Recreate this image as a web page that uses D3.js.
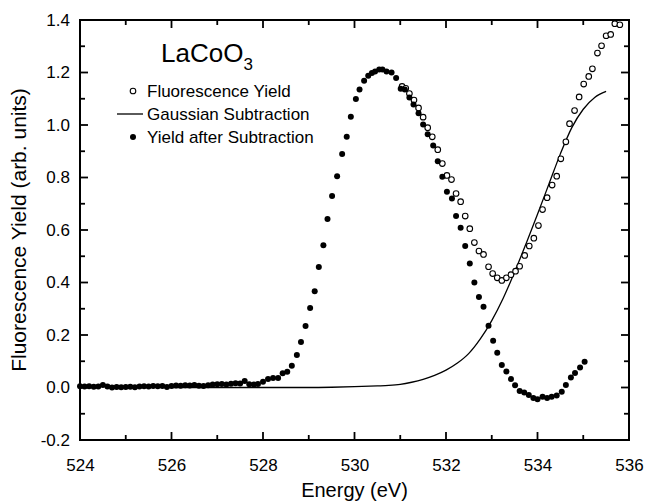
<!DOCTYPE html>
<html><head><meta charset="utf-8">
<script src="https://cdn.jsdelivr.net/npm/d3@7/dist/d3.min.js"></script>
<style>
html,body{margin:0;padding:0;background:#fff;}
svg{display:block;font-family:"Liberation Sans",Arial,Helvetica,sans-serif;}
</style></head>
<body><svg id="c" width="645" height="502"></svg>
<script>
// ---- data ----
const subE = [524.0,524.1,524.2,524.3,524.4,524.5,524.6,524.7,524.8,524.9,525.0,525.1,525.2,525.3,525.4,525.5,525.6,525.7,525.8,525.9,526.0,526.1,526.2,526.3,526.4,526.5,526.6,526.7,526.8,526.9,527.0,527.1,527.2,527.3,527.4,527.5,527.6,527.7,527.8,527.89,528.0,528.11,528.22,528.33,528.43,528.53,528.63,528.74,528.83,528.93,529.03,529.13,529.22,529.32,529.41,529.51,529.62,529.73,529.83,529.92,530.03,530.11,530.21,530.30,530.38,530.45,530.54,530.61,530.70,530.81,530.91,531.01,531.1,531.2,531.29,531.4,531.5,531.6,531.72,531.82,531.92,532.02,532.13,532.22,532.32,532.42,532.52,532.62,532.72,532.82,532.93,533.03,533.12,533.22,533.32,533.42,533.51,533.61,533.71,533.81,533.91,534.0,534.11,534.21,534.31,534.42,534.53,534.62,534.73,534.82,534.93,535.03];
const subV = [0.005,0.004,0.005,0.003,0.004,0.010,0.004,0.000,0.002,0.001,0.002,0.003,0.001,0.004,0.005,0.004,0.006,0.005,0.006,0.002,0.006,0.008,0.007,0.009,0.008,0.010,0.007,0.006,0.009,0.011,0.012,0.013,0.011,0.014,0.016,0.015,0.025,0.012,0.011,0.013,0.022,0.032,0.036,0.036,0.054,0.060,0.083,0.124,0.173,0.234,0.303,0.367,0.459,0.542,0.642,0.730,0.805,0.890,0.955,1.031,1.099,1.135,1.169,1.188,1.198,1.204,1.211,1.211,1.204,1.200,1.179,1.138,1.135,1.105,1.078,1.045,1.002,0.965,0.922,0.862,0.803,0.746,0.720,0.653,0.609,0.539,0.472,0.400,0.345,0.308,0.235,0.178,0.132,0.086,0.061,0.032,0.009,-0.013,-0.019,-0.029,-0.040,-0.045,-0.035,-0.040,-0.035,-0.030,-0.016,0.010,0.038,0.055,0.076,0.098];
const fluoE = [531.04,531.12,531.2,531.3,531.4,531.5,531.6,531.7,531.82,531.92,532.02,532.12,532.22,532.32,532.42,532.52,532.62,532.72,532.82,532.93,533.02,533.12,533.22,533.32,533.42,533.52,533.61,533.72,533.82,533.92,534.02,534.11,534.21,534.32,534.42,534.51,534.62,534.70,534.81,534.91,535.01,535.12,535.20,535.31,535.40,535.50,535.60,535.69,535.80];
const fluoV = [1.147,1.140,1.120,1.095,1.065,1.030,0.990,0.955,0.906,0.853,0.808,0.792,0.739,0.708,0.653,0.605,0.552,0.520,0.507,0.460,0.434,0.418,0.408,0.418,0.430,0.443,0.462,0.503,0.539,0.569,0.617,0.678,0.723,0.771,0.805,0.871,0.936,1.005,1.055,1.107,1.156,1.185,1.214,1.274,1.302,1.340,1.345,1.386,1.382];
const gaussE = [526.0,528.0,529.0,529.5,530.0,530.5,530.75,531.0,531.25,531.5,531.75,532.0,532.25,532.5,532.75,533.0,533.25,533.5,533.75,534.0,534.25,534.5,534.75,535.0,535.25,535.5];
const gaussV = [0.000,0.000,0.000,0.001,0.003,0.006,0.008,0.012,0.020,0.031,0.046,0.066,0.093,0.130,0.185,0.255,0.340,0.440,0.548,0.660,0.775,0.890,0.990,1.060,1.105,1.128];
const xTicks = [524,526,528,530,532,534,536];
const yTicks = [-0.2,0.0,0.2,0.4,0.6,0.8,1.0,1.2,1.4];
const legendLabels = ["Fluorescence Yield","Gaussian Subtraction","Yield after Subtraction"];
const title = "LaCoO";
const titleSub = "3";

// ---- layout ----
const L=80, R=629, T=20, B=440;
const svg = d3.select("#c");
const x = d3.scaleLinear().domain([524,536]).range([L,R]);
const y = d3.scaleLinear().domain([-0.2,1.4]).range([B,T]);

const xMinor = d3.range(525,536,2);
const yMinor = d3.range(-0.1,1.4,0.2);
const yFmt = d => d3.format(".1f")(d).replace("\u2212","-");

function styleAxis(g){
  g.select(".domain").remove();
  g.selectAll("line").remove();
  g.selectAll("text").attr("fill","#000").attr("font-size",17).attr("font-family","Liberation Sans, Arial, sans-serif");
}
// tick labels via axes
svg.append("g").attr("transform",`translate(0,${B})`)
  .call(d3.axisBottom(x).tickValues(xTicks).tickFormat(d3.format("d")).tickSize(0).tickPadding(19))
  .call(styleAxis);
svg.append("g").attr("transform",`translate(${L},0)`)
  .call(d3.axisLeft(y).tickValues(yTicks).tickFormat(yFmt).tickSize(0).tickPadding(10))
  .call(styleAxis);

// tick marks (inward, all four sides)
const tk = svg.append("g").attr("stroke","#000").attr("stroke-width",1.8).attr("fill","none");
function xt(vals,len){
  tk.append("g").selectAll("line").data(vals).join("line")
    .attr("x1",d=>x(d)).attr("x2",d=>x(d)).attr("y1",B).attr("y2",B-len);
  tk.append("g").selectAll("line").data(vals).join("line")
    .attr("x1",d=>x(d)).attr("x2",d=>x(d)).attr("y1",T).attr("y2",T+len);
}
function yt(vals,len){
  tk.append("g").selectAll("line").data(vals).join("line")
    .attr("y1",d=>y(d)).attr("y2",d=>y(d)).attr("x1",L).attr("x2",L+len);
  tk.append("g").selectAll("line").data(vals).join("line")
    .attr("y1",d=>y(d)).attr("y2",d=>y(d)).attr("x1",R).attr("x2",R-len);
}
xt(xTicks,8); xt(xMinor,5); yt(yTicks,8); yt(yMinor,5);

// frame
svg.append("rect").attr("x",L).attr("y",T).attr("width",R-L).attr("height",B-T)
  .attr("fill","none").attr("stroke","#000").attr("stroke-width",2);

// gaussian line
const gData = gaussE.map((e,i)=>[e,gaussV[i]]);
svg.append("path").datum(gData)
  .attr("d",d3.line().x(d=>x(d[0])).y(d=>y(d[1])).curve(d3.curveMonotoneX))
  .attr("fill","none").attr("stroke","#000").attr("stroke-width",1.3);

// open circles
svg.append("g").selectAll("circle").data(fluoE.map((e,i)=>[e,fluoV[i]])).join("circle")
  .attr("cx",d=>x(d[0])).attr("cy",d=>y(d[1])).attr("r",2.8)
  .attr("fill","#fff").attr("stroke","#000").attr("stroke-width",1.1);

// filled circles
svg.append("g").selectAll("circle").data(subE.map((e,i)=>[e,subV[i]])).join("circle")
  .attr("cx",d=>x(d[0])).attr("cy",d=>y(d[1])).attr("r",3).attr("fill","#000");

// title
const tt = svg.append("text").attr("x",161).attr("y",62).attr("font-size",26).attr("fill","#000");
tt.append("tspan").text(title);
tt.append("tspan").attr("font-size",17).attr("dy",8).text(titleSub);

// legend
const lg = svg.append("g");
const rows = [97,120,143];
lg.append("circle").attr("cx",133).attr("cy",rows[0]-6).attr("r",2.8).attr("fill","#fff").attr("stroke","#000").attr("stroke-width",1.1);
lg.append("line").attr("x1",117).attr("x2",143).attr("y1",rows[1]-6).attr("y2",rows[1]-6).attr("stroke","#000").attr("stroke-width",1.3);
lg.append("circle").attr("cx",133).attr("cy",rows[2]-6).attr("r",3).attr("fill","#000");
lg.selectAll("text").data(legendLabels).join("text")
  .attr("x",147).attr("y",(d,i)=>rows[i]).attr("font-size",17).attr("fill","#000").text(d=>d);

// axis titles
svg.append("text").attr("x",(L+R)/2).attr("y",497).attr("text-anchor","middle").attr("font-size",20).attr("fill","#000").text("Energy (eV)");
svg.append("text").attr("transform",`translate(26,${(T+B)/2}) rotate(-90)`).attr("text-anchor","middle").attr("font-size",21).attr("fill","#000").text("Fluorescence Yield (arb. units)");
</script></body></html>
